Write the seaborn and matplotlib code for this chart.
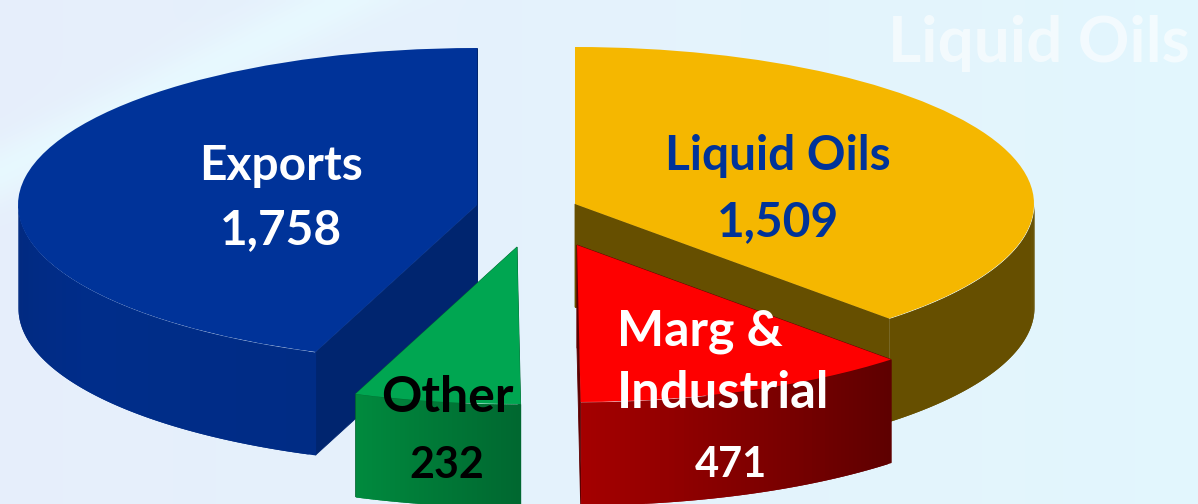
import numpy as np
import matplotlib
matplotlib.use("Agg")
import matplotlib.pyplot as plt
import seaborn as sns

# data
categories = ["Liquid Oils", "Marg & Industrial", "Other", "Exports"]
values = [1509, 471, 232, 1758]
value_labels = ["1,509", "471", "232", "1,758"]

# look of each slice, same order as categories
top_colors = ["#f5b700", "#fe0000", "#00a651", "#003399"]
wall_colors = [["#664f00", "#664f00"], ["#a50000", "#5e0000"],
               ["#008a3e", "#006830"], ["#02297f", "#002d8a", "#002c85"]]
cut_colors = ["#664f00", "#5e0000", "#006830", "#00256f"]
# pixel position of each slice's apex (exploded by hand in the original)
apex_px = [(575, 204), (577, 245), (517, 247), (477, 205)]

W, H = 1198, 504
RX, RY, DEPTH = 459, 157, 103

sns.set_theme(style="white")
plt.rcParams["font.family"] = ["Lato", "DejaVu Sans"]

fig = plt.figure(figsize=(W / 100, H / 100), dpi=100)
ax = fig.add_axes([0, 0, 1, 1])


def ux(px):
    return px / RX


def uy(py):
    return -py / RY


# background: pale blue wash with a soft lighter streak
xx, yy = np.meshgrid(np.linspace(0, 1, 300), np.linspace(0, 1, 126))
left = np.array(matplotlib.colors.to_rgb("#e9edfb"))
right = np.array(matplotlib.colors.to_rgb("#e2fafe"))
bg = left[None, None, :] * (1 - xx[..., None]) + right[None, None, :] * xx[..., None]
mid = np.array(matplotlib.colors.to_rgb("#e3f1fc"))
bg = bg * 0.6 + mid * 0.4
streak = np.exp(-((yy - (0.34 - 1.2 * xx)) / 0.06) ** 2) * 0.85
bg = bg + (np.array([0.91, 0.98, 1.0]) - bg) * streak[..., None]
ax.imshow(bg, extent=(ux(0), ux(W), uy(H), uy(0)), aspect="auto", zorder=0,
          interpolation="bilinear")

total = sum(values)
starts = np.cumsum([0] + values[:-1]) / total * 360
sweeps = np.array(values) / total * 360

# painter order: exports, liquid oils, marg, other
order = [3, 0, 1, 2]
z = 1
for i in order:
    cx, cy = ux(apex_px[i][0]), uy(apex_px[i][1])
    d = DEPTH / RY
    a0, a1 = starts[i], starts[i] + sweeps[i]

    # flat cut faces
    for a in (a0, a1):
        r = np.radians(a)
        ax.fill([cx, cx + np.sin(r), cx + np.sin(r), cx],
                [cy, cy + np.cos(r), cy + np.cos(r) - d, cy - d],
                color=cut_colors[i], lw=0.6, zorder=z)
    z += 1

    # rim, only the part that faces the viewer
    lo, hi = max(a0, 90), min(a1, 270)
    th = np.radians(np.linspace(lo, hi, 70))
    xs, ys = cx + np.sin(th), cy + np.cos(th)
    pal = sns.blend_palette(wall_colors[i], len(th))
    rank = np.argsort(np.argsort(xs))
    # overlapping steps so no seams show between them
    steps = range(len(th) - 1) if xs[0] > xs[-1] else range(len(th) - 2, -1, -1)
    for k in steps:
        x_seg = xs[k:k + 3]
        y_seg = ys[k:k + 3]
        ax.fill_between(x_seg, y_seg, y_seg - d, color=pal[rank[k]], lw=0,
                        antialiased=False, zorder=z)
    z += 1

    # top face
    wedges, _ = ax.pie([values[i], total - values[i]], radius=1, center=(cx, cy),
                       startangle=90 - a0, counterclock=False,
                       colors=[top_colors[i], "none"], frame=True,
                       wedgeprops={"linewidth": 0, "zorder": z})
    wedges[1].set_visible(False)
    z += 1

ax.set_aspect("auto")
ax.set_xlim(ux(0), ux(W))
ax.set_ylim(uy(H), uy(0))
ax.axis("off")


def label(px, py, s, color, size, ha="center", alpha=1.0, zt=50):
    ax.text(px / W, 1 - py / H, s, transform=ax.transAxes, color=color, fontsize=size,
            fontweight="bold", ha=ha, va="center", alpha=alpha, zorder=zt, clip_on=True)


label(281, 166, categories[3], "white", 34.5)
label(281, 230, value_labels[3], "white", 34.5)
label(778, 156, categories[0], "#003399", 34.5)
label(778, 222, value_labels[0], "#003399", 34.5)
label(617, 332, "Marg &", "white", 36, ha="left")
label(617, 394, "Industrial", "white", 36.5, ha="left")
label(731, 465, value_labels[1], "white", 30)
label(447, 398, categories[2], "black", 36)
label(447, 465, value_labels[2], "black", 31)
label(888, 44, categories[0], "white", 46, ha="left", alpha=0.6, zt=0.5)

fig.savefig("out.png", dpi=100)
